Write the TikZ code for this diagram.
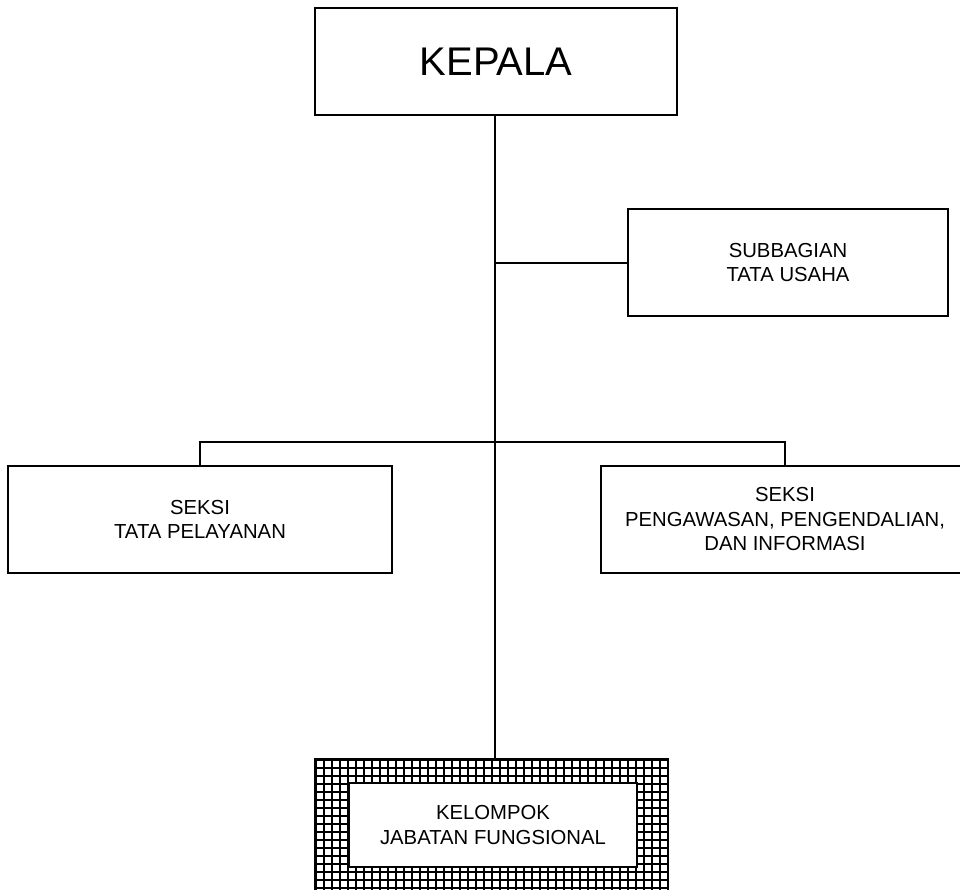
\documentclass[tikz,border=0pt]{standalone}
\usepackage{fontspec}
\setmainfont{Liberation Sans}
\begin{document}
\begin{tikzpicture}[x=1pt,y=-1pt,
  unitbox/.style={draw=black, line width=1.3pt, fill=white, rectangle, inner sep=0pt, align=center,
    font=\fontsize{20.3}{24.5}\selectfont},
  conn/.style={draw=black, line width=1.3pt},
  gridline/.style={draw=black, line width=2pt}]
\useasboundingbox (0,0) rectangle (960,890);
% boxes
\node[unitbox, minimum width=362pt, minimum height=107pt, font=\fontsize{40}{42}\selectfont] (kepala) at (496,61.5) {KEPALA};
\node[unitbox, minimum width=320pt, minimum height=107pt] (sub) at (788,262.5) {SUBBAGIAN\\TATA USAHA};
\node[unitbox, minimum width=384pt, minimum height=107pt] (left) at (200,519.5) {SEKSI\\TATA PELAYANAN};
\node[unitbox, minimum width=368pt, minimum height=107pt] (right) at (785,519.5) {SEKSI\\PENGAWASAN, PENGENDALIAN,\\DAN INFORMASI};
% outer hatched box
\node[draw=black, line width=1.3pt, rectangle, inner sep=0pt, minimum width=353pt, minimum height=132pt] (kelouter) at (491.5,825) {};
\begin{scope}
  \clip (kelouter.north west) rectangle (kelouter.south east);
  \foreach \i in {0,...,45} {
    \draw[gridline] (315.5+\i*8,755) -- (315.5+\i*8,895);
  }
  \foreach \j in {0,...,17} {
    \draw[gridline] (310,759.5+\j*8) -- (672,759.5+\j*8);
  }
\end{scope}
\draw[line width=1.5pt] (kelouter.north west) rectangle (kelouter.south east);
\node[unitbox, line width=2.2pt, minimum width=288pt, minimum height=84pt] (kel) at (493,825) {KELOMPOK\\JABATAN FUNGSIONAL};
% connectors
\coordinate (trunk) at (495,115);
\coordinate (jsub) at (495,263);
\coordinate (jsek) at (495,442);
\draw[conn] (kepala.south -| trunk) -- (kelouter.north -| trunk);
\draw[conn] (jsub) -- (sub.west |- jsub);
\draw[conn] (left.north) -- (left.north |- jsek) -- (right.north |- jsek) -- (right.north);
\end{tikzpicture}
\end{document}
